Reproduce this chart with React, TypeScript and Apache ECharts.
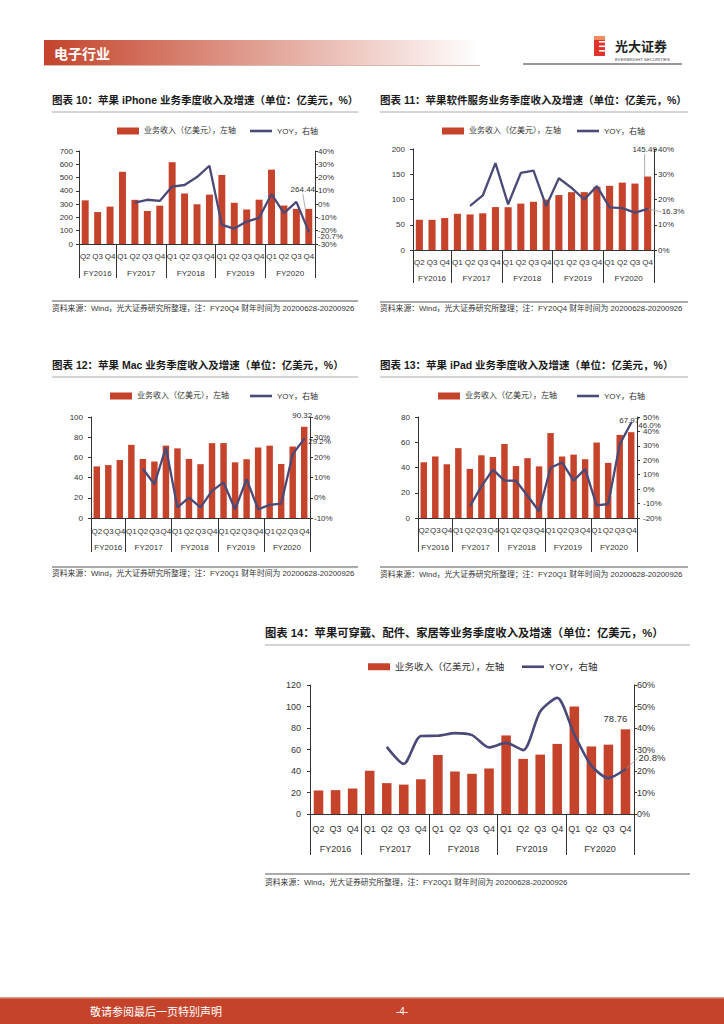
import React, { useEffect, useRef } from 'react';
import * as echarts from 'echarts';

// ---------- data ----------
const quarterLabels = ['Q2', 'Q3', 'Q4', 'Q1', 'Q2', 'Q3', 'Q4', 'Q1', 'Q2', 'Q3', 'Q4', 'Q1', 'Q2', 'Q3', 'Q4', 'Q1', 'Q2', 'Q3', 'Q4'];
const fiscalYears = ['FY2016', 'FY2017', 'FY2018', 'FY2019', 'FY2020'];
const quartersPerYear = [3, 4, 4, 4, 4];

const barName = '业务收入（亿美元），左轴';
const lineName = 'YOY，右轴';

const iphoneRevenue = [328.57, 240.48, 281.6, 543.78, 332.49, 248.46, 288.46, 615.76, 380.32, 299.06, 371.85, 519.82, 310.51, 259.86, 333.62, 559.57, 289.62, 264.18, 264.44];
const iphoneYoy = [null, null, null, null, 1.2, 3.3, 2.4, 13.2, 14.4, 20.4, 28.9, -15.6, -18.4, -13.1, -10.3, 7.6, -6.7, 1.7, -20.7];

const servicesRevenue = [59.91, 59.76, 63.25, 71.72, 70.41, 72.66, 85.01, 84.71, 91.9, 95.48, 99.81, 108.75, 114.5, 114.55, 125.11, 127.15, 133.48, 131.56, 145.49];
const servicesYoy = [null, null, null, null, 17.5, 21.6, 34.4, 18.1, 30.5, 31.4, 17.4, 28.4, 24.6, 20.0, 25.3, 16.9, 16.6, 14.8, 16.3];

const macRevenue = [51.07, 52.39, 57.39, 72.44, 58.44, 55.92, 71.7, 68.95, 58.48, 53.3, 74.11, 74.16, 55.13, 58.2, 69.91, 71.6, 53.51, 70.79, 90.32];
const macYoy = [null, null, null, null, 14.4, 6.7, 24.9, -4.8, 0.1, -4.7, 3.4, 7.6, -5.7, 9.2, -5.7, -3.5, -2.9, 21.6, 29.2];

const ipadRevenue = [44.13, 48.76, 42.55, 55.33, 38.89, 49.69, 48.31, 58.62, 41.13, 47.41, 40.89, 67.29, 48.72, 50.23, 46.56, 59.77, 43.68, 65.82, 67.97];
const ipadYoy = [null, null, null, null, -11.9, 1.9, 13.5, 5.9, 5.8, -4.6, -15.4, 14.8, 18.5, 5.9, 13.9, -11.2, -10.3, 31.0, 46.0];

const wearablesRevenue = [21.89, 22.19, 23.7, 40.24, 28.73, 27.35, 32.31, 54.89, 39.54, 37.4, 42.34, 73.08, 51.29, 55.25, 65.2, 100.1, 62.84, 64.5, 78.76];
const wearablesYoy = [null, null, null, null, 31.2, 23.3, 36.3, 36.4, 37.6, 36.7, 31.0, 33.1, 29.7, 47.7, 54.0, 37.0, 22.5, 16.7, 20.8];

// ---------- styling ----------
const BAR_COLOR = '#C5432B';
const LINE_COLOR = '#4A4A78';
const AXIS_COLOR = '#333333';
const TEXT_COLOR = '#333333';
const FONT = '"Liberation Sans", "Noto Sans CJK SC", sans-serif';

const yearBounds: number[] = [0];
quartersPerYear.forEach((n) => yearBounds.push(yearBounds[yearBounds.length - 1] + n));
const yearCenters = fiscalYears.map((_, i) => (yearBounds[i] + yearBounds[i + 1]) / 2);

const panels = [
  {
    title: '图表 10：苹果 iPhone 业务季度收入及增速（单位：亿美元，%）',
    source: '资料来源：Wind，光大证券研究所整理，注：FY20Q4 财年时间为 20200628-20200926',
    revenue: iphoneRevenue, yoy: iphoneYoy,
    grid: { left: 79, top: 151, width: 236, height: 93 },
    lmax: 700, lint: 100, rmin: -30, rmax: 40, rint: 10,
    fs: 8, fyFs: 8, labelFs: 8, legendFs: 8, titleFs: 10.5,
    qMargin: 8, fyMargin: 25, sepLen: 34, lMargin: 6, rMargin: 3,
    titleX: 52, titleY: 100, ruleX2: 358, ruleY: 112, srcLineY: 301, srcY: 308,
    legendY: 128, legendBarX: 112, legendLineX: 245,
    barLayout: { dx: -6, dy: -11 }, barLine: true,
    lineLayout: { dx: 3, dy: 5 }, lineLine: false,
    lineWidth: 2.3, smooth: false,
  },
  {
    title: '图表 11：苹果软件服务业务季度收入及增速（单位：亿美元，%）',
    source: '资料来源：Wind，光大证券研究所整理；注：FY20Q4 财年时间为 20200628-20200926',
    revenue: servicesRevenue, yoy: servicesYoy,
    grid: { left: 413, top: 149, width: 241, height: 101 },
    lmax: 200, lint: 50, rmin: 0, rmax: 40, rint: 10,
    fs: 8, fyFs: 8, labelFs: 8, legendFs: 8, titleFs: 10.5,
    qMargin: 8, fyMargin: 24, sepLen: 33, lMargin: 8, rMargin: 4,
    titleX: 380, titleY: 100, ruleX2: 688, ruleY: 112, srcLineY: 302, srcY: 308,
    legendY: 128, legendBarX: 437, legendLineX: 572,
    barLayout: { dx: -3, dy: -19 }, barLine: true,
    lineLayout: { dx: 8, dy: 3 }, lineLine: true,
    lineWidth: 2.3, smooth: false,
  },
  {
    title: '图表 12：苹果 Mac 业务季度收入及增速（单位：亿美元，%）',
    source: '资料来源：Wind，光大证券研究所整理；注：FY20Q1 财年时间为 20200628-20200926',
    revenue: macRevenue, yoy: macYoy,
    grid: { left: 91, top: 417, width: 219, height: 101 },
    lmax: 100, lint: 20, rmin: -10, rmax: 40, rint: 10,
    fs: 8, fyFs: 8, labelFs: 8, legendFs: 8, titleFs: 10.5,
    qMargin: 9, fyMargin: 25, sepLen: 34, lMargin: 8, rMargin: 4,
    titleX: 52, titleY: 365, ruleX2: 358, ruleY: 377, srcLineY: 567, srcY: 573,
    legendY: 393, legendBarX: 105, legendLineX: 245,
    barLayout: { dx: -2, dy: -3 }, barLine: false,
    lineLayout: { dx: -2, dy: 3 }, lineLine: false,
    lineWidth: 2.3, smooth: false,
  },
  {
    title: '图表 13：苹果 iPad 业务季度收入及增速（单位：亿美元，%）',
    source: '资料来源：Wind，光大证券研究所整理；注：FY20Q1 财年时间为 20200628-20200926',
    revenue: ipadRevenue, yoy: ipadYoy,
    grid: { left: 418, top: 417, width: 219, height: 101 },
    lmax: 80, lint: 20, rmin: -20, rmax: 50, rint: 10,
    fs: 8, fyFs: 8, labelFs: 8, legendFs: 8, titleFs: 10.5,
    qMargin: 8, fyMargin: 25, sepLen: 34, lMargin: 8, rMargin: 6,
    titleX: 380, titleY: 365, ruleX2: 688, ruleY: 377, srcLineY: 567, srcY: 574,
    legendY: 393, legendBarX: 433, legendLineX: 572,
    barLayout: { dx: -2, dy: -4 }, barLine: false,
    lineLayout: { dx: 1, dy: 3 }, lineLine: false,
    lineWidth: 2.3, smooth: false,
  },
  {
    title: '图表 14：苹果可穿戴、配件、家居等业务季度收入及增速（单位：亿美元，%）',
    source: '资料来源：Wind，光大证券研究所整理，注：FY20Q1 财年时间为 20200628-20200926',
    revenue: wearablesRevenue, yoy: wearablesYoy,
    grid: { left: 310, top: 685, width: 324, height: 129 },
    lmax: 120, lint: 20, rmin: 0, rmax: 60, rint: 10,
    fs: 9, fyFs: 9, labelFs: 9.5, legendFs: 9.5, titleFs: 11.3,
    qMargin: 10, fyMargin: 30, sepLen: 41, lMargin: 9, rMargin: 3,
    titleX: 265, titleY: 633, ruleX2: 690, ruleY: 645, srcLineY: 874, srcY: 882,
    legendY: 663, legendBarX: 363, legendLineX: 517,
    barLayout: { dx: -10, dy: -2 }, barLine: false,
    lineLayout: { dx: 7, dy: -12 }, lineLine: true,
    lineWidth: 2.6, smooth: 0.25,
  },
];

function buildOption() {
  const grid: any[] = [];
  const xAxis: any[] = [];
  const yAxis: any[] = [];
  const series: any[] = [];
  const legend: any[] = [];
  const graphic: any[] = [];

  // page header
  graphic.push({
    type: 'rect', shape: { x: 44, y: 40, width: 436, height: 25 }, silent: true,
    style: {
      fill: new echarts.graphic.LinearGradient(0, 0, 1, 0, [
        { offset: 0, color: '#C4432A' },
        { offset: 1, color: '#FFFFFF' },
      ]),
    },
  });
  graphic.push({ type: 'line', shape: { x1: 44, y1: 65.5, x2: 480, y2: 65.5 }, style: { stroke: '#D8B8AE', lineWidth: 1 } });
  graphic.push({
    type: 'text', x: 54, y: 53,
    style: { text: '电子行业', fill: '#FFFFFF', fontSize: 14, fontWeight: 'bold', fontFamily: '"Noto Sans CJK SC", sans-serif', verticalAlign: 'middle', textVerticalAlign: 'middle' },
  });
  // logo
  graphic.push({ type: 'rect', shape: { x: 594, y: 36, width: 11, height: 20 }, style: { fill: '#E2332B' } });
  graphic.push({ type: 'rect', shape: { x: 594, y: 36, width: 11, height: 4 }, style: { fill: '#F08A5A' } });
  [41, 45.5, 50].forEach((yy) => {
    graphic.push({ type: 'rect', shape: { x: 599, y: yy, width: 6, height: 1.6 }, style: { fill: '#FFFFFF' } });
  });
  graphic.push({
    type: 'text', x: 615, y: 45,
    style: { text: '光大证券', fill: '#222222', fontSize: 13, fontWeight: 'bold', fontFamily: '"Noto Sans CJK SC", sans-serif', verticalAlign: 'middle', textVerticalAlign: 'middle' },
  });
  graphic.push({
    type: 'text', x: 615, y: 59,
    style: { text: 'EVERBRIGHT SECURITIES', fill: '#444444', fontSize: 4.3, fontFamily: FONT, verticalAlign: 'middle', textVerticalAlign: 'middle' },
  });
  graphic.push({ type: 'line', shape: { x1: 523, y1: 64, x2: 682, y2: 64 }, style: { stroke: '#777777', lineWidth: 1.5 } });

  // footer
  graphic.push({ type: 'rect', shape: { x: 0, y: 998, width: 724, height: 26 }, style: { fill: '#C5432B' } });
  graphic.push({ type: 'rect', shape: { x: 0, y: 997, width: 724, height: 1.5 }, style: { fill: '#E59A85' } });
  graphic.push({
    type: 'text', x: 90, y: 1011,
    style: { text: '敬请参阅最后一页特别声明', fill: '#FFFFFF', fontSize: 11, fontFamily: '"Noto Sans CJK SC", sans-serif', verticalAlign: 'middle', textVerticalAlign: 'middle' },
  });
  graphic.push({
    type: 'text', x: 402, y: 1011,
    style: { text: '-4-', fill: '#FFFFFF', fontSize: 10, fontFamily: FONT, align: 'center', textAlign: 'center', verticalAlign: 'middle', textVerticalAlign: 'middle' },
  });

  const last = quarterLabels.length - 1;

  panels.forEach((p, i) => {
    // titles & rules
    graphic.push({
      type: 'text', x: p.titleX, y: p.titleY,
      style: { text: p.title, fill: '#1a1a1a', fontSize: p.titleFs, fontWeight: 'bold', fontFamily: FONT, verticalAlign: 'middle', textVerticalAlign: 'middle' },
    });
    graphic.push({ type: 'line', shape: { x1: p.titleX, y1: p.ruleY, x2: p.ruleX2, y2: p.ruleY }, style: { stroke: '#AAAAAA', lineWidth: 1 } });
    graphic.push({ type: 'line', shape: { x1: p.titleX, y1: p.srcLineY, x2: p.ruleX2, y2: p.srcLineY }, style: { stroke: '#555555', lineWidth: 1 } });
    graphic.push({
      type: 'text', x: p.titleX, y: p.srcY,
      style: { text: p.source, fill: TEXT_COLOR, fontSize: 7.8, fontFamily: FONT, verticalAlign: 'middle', textVerticalAlign: 'middle' },
    });

    // legends (one per item for exact placement)
    const legendBase = {
      top: p.legendY - 6, itemWidth: 22,
      textStyle: { fontSize: p.legendFs, color: TEXT_COLOR, fontFamily: FONT },
      selectedMode: false,
    };
    legend.push({ ...legendBase, left: p.legendBarX, itemHeight: 7, data: [{ name: barName, icon: 'rect' }] });
    legend.push({ ...legendBase, left: p.legendLineX, itemHeight: 2.6, data: [{ name: lineName, icon: 'rect' }] });

    grid.push({ left: p.grid.left, top: p.grid.top, width: p.grid.width, height: p.grid.height });

    // quarter axis: carries the year separators as long ticks at group boundaries
    xAxis.push({
      type: 'category', gridIndex: i, data: quarterLabels,
      axisLine: { show: true, lineStyle: { color: AXIS_COLOR, width: 1 } },
      axisTick: {
        show: true,
        interval: (idx: number) => yearBounds.indexOf(idx) >= 0,
        length: p.sepLen,
        lineStyle: { color: AXIS_COLOR, width: 1 },
      },
      axisLabel: { interval: 0, fontSize: p.fs, color: TEXT_COLOR, margin: p.qMargin, fontFamily: FONT },
      splitLine: { show: false },
    });
    // fiscal-year label axis
    xAxis.push({
      type: 'value', gridIndex: i, min: 0, max: quarterLabels.length, position: 'bottom',
      axisLine: { show: false },
      splitLine: { show: false },
      axisTick: { show: false },
      axisLabel: {
        customValues: yearCenters, fontSize: p.fyFs, color: TEXT_COLOR, margin: p.fyMargin, fontFamily: FONT,
        formatter: (v: number) => {
          const k = yearCenters.indexOf(v);
          return k >= 0 ? fiscalYears[k] : '';
        },
      },
    });

    yAxis.push({
      type: 'value', gridIndex: i, position: 'left', min: 0, max: p.lmax, interval: p.lint,
      axisLine: { show: true, lineStyle: { color: AXIS_COLOR, width: 1 } },
      axisTick: { show: true, length: 3, lineStyle: { color: AXIS_COLOR } },
      splitLine: { show: false },
      axisLabel: { fontSize: p.fs, color: TEXT_COLOR, margin: p.lMargin, fontFamily: FONT },
    });
    yAxis.push({
      type: 'value', gridIndex: i, position: 'right', min: p.rmin, max: p.rmax, interval: p.rint,
      axisLine: { show: true, lineStyle: { color: AXIS_COLOR, width: 1 } },
      axisTick: { show: true, length: 3, lineStyle: { color: AXIS_COLOR } },
      splitLine: { show: false },
      axisLabel: { fontSize: p.fs, color: TEXT_COLOR, margin: p.rMargin, fontFamily: FONT, formatter: '{value}%' },
    });

    series.push({
      type: 'bar', name: barName, xAxisIndex: 2 * i, yAxisIndex: 2 * i,
      data: p.revenue.map((v, k) => (k === last ? { value: v, label: { show: true } } : v)),
      barWidth: '56%',
      itemStyle: { color: BAR_COLOR },
      label: {
        show: false, position: 'top', distance: 4, fontSize: p.labelFs, color: TEXT_COLOR, fontFamily: FONT,
        formatter: (q: any) => Number(q.value).toFixed(2),
      },
      labelLayout: p.barLayout,
      labelLine: { show: p.barLine, lineStyle: { color: '#999999', width: 0.8 } },
      silent: true,
    });
    series.push({
      type: 'line', name: lineName, xAxisIndex: 2 * i, yAxisIndex: 2 * i + 1,
      data: p.yoy.map((v, k) =>
        k === last ? { value: v, symbol: 'circle', symbolSize: 2, label: { show: true } } : v
      ),
      symbol: 'none',
      smooth: p.smooth,
      lineStyle: { color: LINE_COLOR, width: p.lineWidth },
      itemStyle: { color: LINE_COLOR },
      label: {
        show: false, position: 'right', distance: 5, fontSize: p.labelFs, color: TEXT_COLOR, fontFamily: FONT,
        formatter: (q: any) => Number(q.value).toFixed(1) + '%',
      },
      labelLayout: p.lineLayout,
      labelLine: { show: p.lineLine, lineStyle: { color: '#999999', width: 0.8 } },
      silent: true,
    });
  });

  return {
    animation: false,
    backgroundColor: '#FFFFFF',
    textStyle: { fontFamily: FONT },
    grid, xAxis, yAxis, series, legend, graphic,
  };
}

export default function App() {
  const ref = useRef<HTMLDivElement>(null);
  useEffect(() => {
    if (!ref.current) return;
    const chart = echarts.init(ref.current, undefined, { renderer: 'svg' });
    chart.setOption(buildOption() as any);
    return () => chart.dispose();
  }, []);
  return (
    <div
      ref={ref}
      style={{ position: 'absolute', left: 0, top: 0, width: 724, height: 1024, background: '#FFFFFF' }}
    />
  );
}
